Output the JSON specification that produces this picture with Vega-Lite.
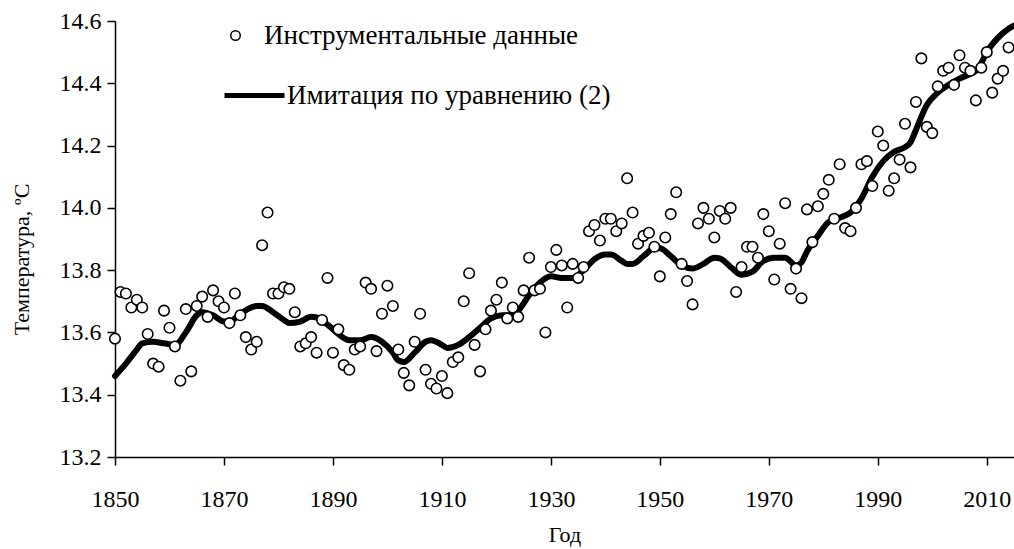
{
  "$schema": "https://vega.github.io/schema/vega-lite/v6.json",
  "width": 899,
  "height": 436,
  "autosize": {"type": "none"},
  "padding": {"left": 115, "top": 21, "right": 0, "bottom": 92},
  "background": "white",
  "config": {
    "view": {"stroke": null},
    "font": "Liberation Serif",
    "axis": {
      "grid": false,
      "domainColor": "black",
      "domainWidth": 1.5,
      "tickColor": "black",
      "tickWidth": 1.5,
      "tickSize": 8,
      "labelFont": "Liberation Serif",
      "labelFontSize": 24,
      "labelColor": "black",
      "titleFont": "Liberation Serif",
      "titleFontSize": 22,
      "titleFontWeight": "normal",
      "titleColor": "black"
    }
  },
  "datasets": {
    "obs": [
      {"year":1850,"temp":13.58},{"year":1851,"temp":13.73},{"year":1852,"temp":13.725},{"year":1853,"temp":13.68},{"year":1854,"temp":13.705},
      {"year":1855,"temp":13.68},{"year":1856,"temp":13.595},{"year":1857,"temp":13.50},{"year":1858,"temp":13.49},{"year":1859,"temp":13.67},
      {"year":1860,"temp":13.615},{"year":1861,"temp":13.555},{"year":1862,"temp":13.445},{"year":1863,"temp":13.675},{"year":1864,"temp":13.475},
      {"year":1865,"temp":13.685},{"year":1866,"temp":13.715},{"year":1867,"temp":13.65},{"year":1868,"temp":13.735},{"year":1869,"temp":13.70},
      {"year":1870,"temp":13.68},{"year":1871,"temp":13.63},{"year":1872,"temp":13.725},{"year":1873,"temp":13.655},{"year":1874,"temp":13.585},
      {"year":1875,"temp":13.545},{"year":1876,"temp":13.57},{"year":1877,"temp":13.88},{"year":1878,"temp":13.985},{"year":1879,"temp":13.725},
      {"year":1880,"temp":13.725},{"year":1881,"temp":13.745},{"year":1882,"temp":13.74},{"year":1883,"temp":13.665},{"year":1884,"temp":13.555},
      {"year":1885,"temp":13.565},{"year":1886,"temp":13.585},{"year":1887,"temp":13.535},{"year":1888,"temp":13.64},{"year":1889,"temp":13.775},
      {"year":1890,"temp":13.535},{"year":1891,"temp":13.61},{"year":1892,"temp":13.495},{"year":1893,"temp":13.48},{"year":1894,"temp":13.545},
      {"year":1895,"temp":13.555},{"year":1896,"temp":13.76},{"year":1897,"temp":13.74},{"year":1898,"temp":13.54},{"year":1899,"temp":13.66},
      {"year":1900,"temp":13.75},{"year":1901,"temp":13.685},{"year":1902,"temp":13.545},{"year":1903,"temp":13.47},{"year":1904,"temp":13.43},
      {"year":1905,"temp":13.57},{"year":1906,"temp":13.66},{"year":1907,"temp":13.48},{"year":1908,"temp":13.435},{"year":1909,"temp":13.42},
      {"year":1910,"temp":13.46},{"year":1911,"temp":13.405},{"year":1912,"temp":13.505},{"year":1913,"temp":13.52},{"year":1914,"temp":13.70},
      {"year":1915,"temp":13.79},{"year":1916,"temp":13.56},{"year":1917,"temp":13.475},{"year":1918,"temp":13.61},{"year":1919,"temp":13.67},
      {"year":1920,"temp":13.705},{"year":1921,"temp":13.76},{"year":1922,"temp":13.645},{"year":1923,"temp":13.68},{"year":1924,"temp":13.65},
      {"year":1925,"temp":13.735},{"year":1926,"temp":13.84},{"year":1927,"temp":13.735},{"year":1928,"temp":13.74},{"year":1929,"temp":13.60},
      {"year":1930,"temp":13.81},{"year":1931,"temp":13.865},{"year":1932,"temp":13.815},{"year":1933,"temp":13.68},{"year":1934,"temp":13.82},
      {"year":1935,"temp":13.775},{"year":1936,"temp":13.81},{"year":1937,"temp":13.925},{"year":1938,"temp":13.945},{"year":1939,"temp":13.895},
      {"year":1940,"temp":13.965},{"year":1941,"temp":13.965},{"year":1942,"temp":13.925},{"year":1943,"temp":13.95},{"year":1944,"temp":14.095},
      {"year":1945,"temp":13.985},{"year":1946,"temp":13.885},{"year":1947,"temp":13.91},{"year":1948,"temp":13.92},{"year":1949,"temp":13.875},
      {"year":1950,"temp":13.78},{"year":1951,"temp":13.905},{"year":1952,"temp":13.98},{"year":1953,"temp":14.05},{"year":1954,"temp":13.82},
      {"year":1955,"temp":13.765},{"year":1956,"temp":13.69},{"year":1957,"temp":13.95},{"year":1958,"temp":14.0},{"year":1959,"temp":13.965},
      {"year":1960,"temp":13.905},{"year":1961,"temp":13.99},{"year":1962,"temp":13.965},{"year":1963,"temp":14.0},{"year":1964,"temp":13.73},
      {"year":1965,"temp":13.81},{"year":1966,"temp":13.875},{"year":1967,"temp":13.875},{"year":1968,"temp":13.84},{"year":1969,"temp":13.98},
      {"year":1970,"temp":13.925},{"year":1971,"temp":13.77},{"year":1972,"temp":13.885},{"year":1973,"temp":14.015},{"year":1974,"temp":13.74},
      {"year":1975,"temp":13.805},{"year":1976,"temp":13.71},{"year":1977,"temp":13.995},{"year":1978,"temp":13.89},{"year":1979,"temp":14.005},
      {"year":1980,"temp":14.045},{"year":1981,"temp":14.09},{"year":1982,"temp":13.965},{"year":1983,"temp":14.14},{"year":1984,"temp":13.935},
      {"year":1985,"temp":13.925},{"year":1986,"temp":14.0},{"year":1987,"temp":14.14},{"year":1988,"temp":14.15},{"year":1989,"temp":14.07},
      {"year":1990,"temp":14.245},{"year":1991,"temp":14.2},{"year":1992,"temp":14.055},{"year":1993,"temp":14.095},{"year":1994,"temp":14.155},
      {"year":1995,"temp":14.27},{"year":1996,"temp":14.13},{"year":1997,"temp":14.34},{"year":1998,"temp":14.48},{"year":1999,"temp":14.26},
      {"year":2000,"temp":14.24},{"year":2001,"temp":14.39},{"year":2002,"temp":14.44},{"year":2003,"temp":14.45},{"year":2004,"temp":14.395},
      {"year":2005,"temp":14.49},{"year":2006,"temp":14.45},{"year":2007,"temp":14.44},{"year":2008,"temp":14.345},{"year":2009,"temp":14.45},
      {"year":2010,"temp":14.50},{"year":2011,"temp":14.37},{"year":2012,"temp":14.415},{"year":2013,"temp":14.44},{"year":2014,"temp":14.515}
    ],
    "model": [
      {"year":1850,"temp":13.46},{"year":1852,"temp":13.50},{"year":1854,"temp":13.545},{"year":1855,"temp":13.565},{"year":1857,"temp":13.57},
      {"year":1859,"temp":13.565},{"year":1861,"temp":13.56},{"year":1863,"temp":13.60},{"year":1865,"temp":13.655},{"year":1866,"temp":13.665},
      {"year":1868,"temp":13.655},{"year":1870,"temp":13.635},{"year":1871,"temp":13.635},{"year":1873,"temp":13.66},{"year":1875,"temp":13.68},
      {"year":1876,"temp":13.685},{"year":1877,"temp":13.685},{"year":1879,"temp":13.665},{"year":1881,"temp":13.64},{"year":1882,"temp":13.63},
      {"year":1884,"temp":13.635},{"year":1886,"temp":13.65},{"year":1887,"temp":13.648},{"year":1889,"temp":13.625},{"year":1891,"temp":13.595},
      {"year":1893,"temp":13.575},{"year":1895,"temp":13.575},{"year":1897,"temp":13.585},{"year":1899,"temp":13.57},{"year":1901,"temp":13.535},
      {"year":1902,"temp":13.51},{"year":1903,"temp":13.505},{"year":1905,"temp":13.535},{"year":1907,"temp":13.57},{"year":1908,"temp":13.575},
      {"year":1910,"temp":13.56},{"year":1911,"temp":13.55},{"year":1913,"temp":13.56},{"year":1915,"temp":13.585},{"year":1917,"temp":13.615},
      {"year":1919,"temp":13.645},{"year":1921,"temp":13.655},{"year":1922,"temp":13.655},{"year":1924,"temp":13.67},{"year":1926,"temp":13.72},
      {"year":1928,"temp":13.76},{"year":1930,"temp":13.78},{"year":1932,"temp":13.775},{"year":1934,"temp":13.775},{"year":1936,"temp":13.80},
      {"year":1938,"temp":13.835},{"year":1940,"temp":13.85},{"year":1941,"temp":13.85},{"year":1943,"temp":13.83},{"year":1944,"temp":13.82},
      {"year":1945,"temp":13.82},{"year":1947,"temp":13.845},{"year":1949,"temp":13.87},{"year":1950,"temp":13.87},{"year":1952,"temp":13.845},
      {"year":1954,"temp":13.815},{"year":1956,"temp":13.805},{"year":1958,"temp":13.82},{"year":1960,"temp":13.84},{"year":1961,"temp":13.838},
      {"year":1963,"temp":13.81},{"year":1965,"temp":13.785},{"year":1967,"temp":13.795},{"year":1969,"temp":13.83},{"year":1971,"temp":13.84},
      {"year":1973,"temp":13.84},{"year":1975,"temp":13.815},{"year":1976,"temp":13.825},{"year":1977,"temp":13.86},{"year":1979,"temp":13.91},
      {"year":1981,"temp":13.955},{"year":1983,"temp":13.968},{"year":1985,"temp":13.985},{"year":1987,"temp":14.03},{"year":1989,"temp":14.10},
      {"year":1991,"temp":14.15},{"year":1993,"temp":14.18},{"year":1995,"temp":14.195},{"year":1996,"temp":14.21},{"year":1997,"temp":14.25},
      {"year":1999,"temp":14.33},{"year":2001,"temp":14.37},{"year":2003,"temp":14.395},{"year":2005,"temp":14.415},{"year":2007,"temp":14.43},
      {"year":2008,"temp":14.44},{"year":2009,"temp":14.465},{"year":2010,"temp":14.50},{"year":2012,"temp":14.545},{"year":2014,"temp":14.575},
      {"year":2015,"temp":14.585}
    ]
  },
  "encoding": {
    "x": {
      "field": "year", "type": "quantitative",
      "scale": {"domain": [1850, 2015], "nice": false, "zero": false},
      "axis": {"title": "Год", "values": [1850,1870,1890,1910,1930,1950,1970,1990,2010], "format": "d", "labelPadding": 22, "titlePadding": 13, "labelFlush": false}
    },
    "y": {
      "field": "temp", "type": "quantitative",
      "scale": {"domain": [13.2, 14.6], "nice": false, "zero": false},
      "axis": {"title": "Температура, ºС", "values": [13.2,13.4,13.6,13.8,14.0,14.2,14.4,14.6], "format": ".1f", "labelPadding": 6, "titlePadding": 26, "titleY": 238}
    }
  },
  "layer": [
    {
      "data": {"name": "model"},
      "mark": {"type": "line", "interpolate": "monotone", "strokeWidth": 6, "strokeCap": "round", "clip": false},
      "encoding": {
        "color": {
          "datum": "Имитация по уравнению (2)",
          "scale": {"range": ["black"]},
          "legend": {
            "title": null, "orient": "none", "legendX": 107, "legendY": 42,
            "symbolType": "stroke", "symbolStrokeWidth": 5, "symbolSize": 3600,
            "labelFont": "Liberation Serif", "labelFontSize": 27, "labelColor": "black", "labelOffset": 0, "labelLimit": 0
          }
        }
      }
    },
    {
      "data": {"name": "obs"},
      "mark": {"type": "point", "filled": false, "opacity": 1, "size": 110, "strokeWidth": 1.6, "clip": false},
      "encoding": {
        "fill": {"value": "white"},
        "stroke": {"value": "black"},
        "shape": {
          "datum": "Инструментальные данные",
          "scale": {"range": ["circle"]},
          "legend": {
            "title": null, "orient": "none", "legendX": 107, "legendY": 1,
            "symbolType": "circle", "symbolSize": 90,
            "labelFont": "Liberation Serif", "labelFontSize": 27, "labelColor": "black", "labelOffset": 15, "labelLimit": 0,
            "encode": {"symbols": {"update": {"fill": {"value": "white"}, "stroke": {"value": "black"}, "strokeWidth": {"value": 1.8}, "opacity": {"value": 1}, "fillOpacity": {"value": 1}, "strokeOpacity": {"value": 1}}}}
          }
        }
      }
    }
  ]
}
